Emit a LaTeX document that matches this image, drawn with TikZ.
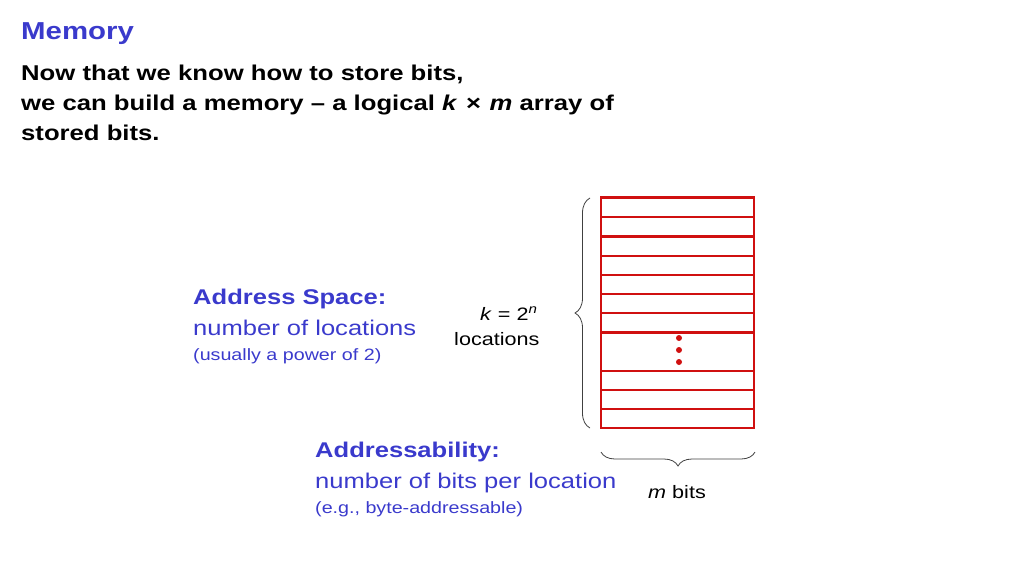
\documentclass[tikz,border=0pt]{standalone}
\usepackage{fontspec}
\setmainfont{Liberation Sans}
\usetikzlibrary{decorations.pathreplacing}
\definecolor{ttl}{HTML}{3A3ACC}
\definecolor{grid}{HTML}{D01010}
\definecolor{brc}{HTML}{404040}
\newcommand\wx[1]{\scalebox{1.2}[1]{#1}}
\begin{document}
\begin{tikzpicture}[x=1pt,y=-1pt,
  txt/.style={inner sep=0pt,anchor=base west,align=left},
  brace/.style={draw=brc,line width=0.8pt,decorate,decoration={brace,amplitude=15pt}}]
\useasboundingbox (0,0) rectangle (1024,576);
\node[txt,text=ttl,font=\fontsize{24.5}{26}\selectfont\bfseries] (title) at (21,39) {\wx{Memory}};
\node[txt,font=\fontsize{21.4}{30}\selectfont\bfseries] (intro1) at (21,80) {\wx{Now that we know how to store bits,}};
\node[txt,font=\fontsize{21.4}{30}\selectfont\bfseries] (intro2) at (21,110) {\wx{we can build a memory -- a logical \textit{k}\,\,×\,\,\textit{m} array of}};
\node[txt,font=\fontsize{21.4}{30}\selectfont\bfseries] (intro3) at (21,140) {\wx{stored bits.}};
% grid
\foreach \y in {217.3,236.5,255.7,274.8,294,313.2,332.4,371,390,409.2}
  \draw[grid,line width=2.3pt] (601,\y) -- (754,\y);
\draw[grid,line width=2.3pt] (601,197.5) rectangle (754,428.3);
\foreach \y in {338,350,362} \fill[grid] (679,\y) circle (3pt);
\coordinate (gtl) at (590,198);
\coordinate (gbl) at (590,428);
\draw[brace] (gbl) -- (gtl);
\coordinate (br) at (755,452);
\coordinate (bl) at (601,452);
\draw[brace,decoration={amplitude=14pt}] (br) -- (bl);
\node[txt,font=\fontsize{18}{18}\selectfont] (mbits) at (648,498) {\wx{\textit{m} bits}};
\node[txt,font=\fontsize{18}{18}\selectfont] (keq) at (480,320) {\wx{\textit{k} = 2\textsuperscript{\textit{n}}}};
\node[txt,font=\fontsize{18}{18}\selectfont] (loc) at (454,345) {\wx{locations}};
\node[txt,text=ttl,font=\fontsize{21.3}{20}\selectfont\bfseries] (as) at (193,304) {\wx{Address Space:}};
\node[txt,text=ttl,font=\fontsize{21.3}{20}\selectfont] (as2) at (193,335) {\wx{number of locations}};
\node[txt,text=ttl,font=\fontsize{16.4}{16}\selectfont] (as3) at (193,360) {\wx{(usually a power of 2)}};
\node[txt,text=ttl,font=\fontsize{21.3}{20}\selectfont\bfseries] (ad) at (315,457) {\wx{Addressability:}};
\node[txt,text=ttl,font=\fontsize{21.3}{20}\selectfont] (ad2) at (315,488) {\wx{number of bits per location}};
\node[txt,text=ttl,font=\fontsize{16.4}{16}\selectfont] (ad3) at (315,513) {\wx{(e.g., byte-addressable)}};
\end{tikzpicture}
\end{document}
